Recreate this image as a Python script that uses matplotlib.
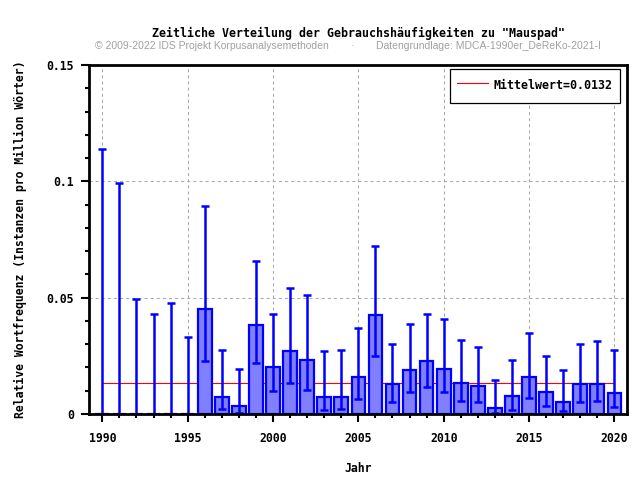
import matplotlib
matplotlib.use("Agg")
import matplotlib.pyplot as plt
from matplotlib.ticker import MultipleLocator, FuncFormatter

years = list(range(1990, 2021))
values = [0, 0, 0, 0, 0, 0, 0.0450, 0.0075, 0.0036, 0.0381, 0.0204, 0.0269, 0.0234,
          0.0075, 0.0075, 0.0157, 0.0424, 0.0131, 0.0191, 0.0226, 0.0195, 0.0135,
          0.0122, 0.0027, 0.0079, 0.0157, 0.0096, 0.0053, 0.0131, 0.0131, 0.0092]
err_low = [0, 0, 0, 0, 0, 0, 0.0226, 0.0023, 0.0003, 0.0221, 0.0101, 0.0134, 0.0105,
           0.0019, 0.0023, 0.0066, 0.0251, 0.0053, 0.0096, 0.0118, 0.0096, 0.0057,
           0.0053, 0.0006, 0.0016, 0.0070, 0.0036, 0.0014, 0.0053, 0.0057, 0.0032]
err_high = [0.1138, 0.0993, 0.0496, 0.0428, 0.0478, 0.0332, 0.0892, 0.0276, 0.0194,
            0.0657, 0.0428, 0.0540, 0.0510, 0.0269, 0.0277, 0.0371, 0.0721, 0.0303,
            0.0385, 0.0428, 0.0407, 0.0316, 0.0290, 0.0144, 0.0230, 0.0346, 0.0251,
            0.0191, 0.0303, 0.0312, 0.0277]
mean_value = 0.0132

title = 'Zeitliche Verteilung der Gebrauchshäufigkeiten zu "Mauspad"'
sub_left = "© 2009-2022 IDS Projekt Korpusanalysemethoden"
sub_mid = "·"
sub_right = "Datengrundlage: MDCA-1990er_DeReKo-2021-I"
xlabel = "Jahr"
ylabel = "Relative Wortfrequenz (Instanzen pro Million Wörter)"
legend_label = "Mittelwert=0.0132"

plt.rcParams['lines.scale_dashes'] = False
mono = "DejaVu Sans Mono"
fs = 8.3

fig = plt.figure(figsize=(6.4, 4.8), dpi=100)
L, R, T, B = 89, 627, 65, 414
ax = fig.add_axes([L / 640, 1 - B / 480, (R - L) / 640, (B - T) / 480])

lower = [v - lo for v, lo in zip(values, err_low)]
upper = [hi - v for v, hi in zip(values, err_high)]

ax.plot([years[0], years[-1]], [mean_value, mean_value], color="#ff0000",
        lw=0.8, zorder=2, label=legend_label)
ax.bar(years, values, width=0.8, color="#8080ff", edgecolor="#0000ff",
       linewidth=1.6, zorder=3)
ax.errorbar(years, values, yerr=[lower, upper], fmt="none", ecolor="#0000ff",
            elinewidth=1.8, capsize=3.0, capthick=1.8, zorder=4)

ax.set_xlim(1989.22, 2020.74)
ax.set_ylim(0, 0.15)
ax.xaxis.set_major_locator(MultipleLocator(5))
ax.xaxis.set_minor_locator(MultipleLocator(1))
ax.yaxis.set_major_locator(MultipleLocator(0.05))
ax.yaxis.set_minor_locator(MultipleLocator(0.01))
ax.yaxis.set_major_formatter(FuncFormatter(lambda v, p: "%g" % round(v, 4)))

ax.tick_params(axis="both", which="major", direction="out", length=6, width=1.5,
               labelsize=fs, colors="black")
ax.tick_params(axis="both", which="minor", direction="out", length=3, width=1.5)
ax.tick_params(axis="x", which="major", pad=7)
ax.tick_params(axis="y", which="major", pad=5)
for lab in ax.get_xticklabels() + ax.get_yticklabels():
    lab.set_fontfamily(mono)
    lab.set_fontweight("bold")

for s in ax.spines.values():
    s.set_linewidth(2.0)
    s.set_color("black")
    s.set_zorder(6)

ax.set_axisbelow(True)
ax.grid(True, which="major", color="#aaaaaa", linewidth=0.75, linestyle=(0, (2.2, 2.2)))

ax.set_xlabel(xlabel, fontfamily=mono, fontweight="bold", fontsize=fs, labelpad=12)
ax.set_ylabel(ylabel, fontfamily=mono, fontweight="bold", fontsize=fs, labelpad=14)

fig.text(358 / 640, 1 - 33 / 480, title, ha="center", va="center",
         fontfamily=mono, fontweight="bold", fontsize=8.4)
sub_kw = dict(va="center", fontfamily="Liberation Sans", fontsize=7.5, color="#a0a0a0")
fig.text(95 / 640, 1 - 46 / 480, sub_left, ha="left", **sub_kw)
fig.text(352 / 640, 1 - 46 / 480, sub_mid, ha="center", **sub_kw)
fig.text(376 / 640, 1 - 46 / 480, sub_right, ha="left", **sub_kw)

leg = ax.legend(loc="upper right", bbox_to_anchor=((620 - L) / (R - L), (B - 69) / (B - T)),
                borderaxespad=0, fancybox=False, shadow=False, framealpha=1,
                edgecolor="black", borderpad=0.6, handleheight=2.2, handlelength=2.7,
                handletextpad=0.5, prop=dict(family=mono, weight="bold", size=8.4))
leg.get_frame().set_linewidth(0.9)

fig.savefig("out.png", dpi=100)
